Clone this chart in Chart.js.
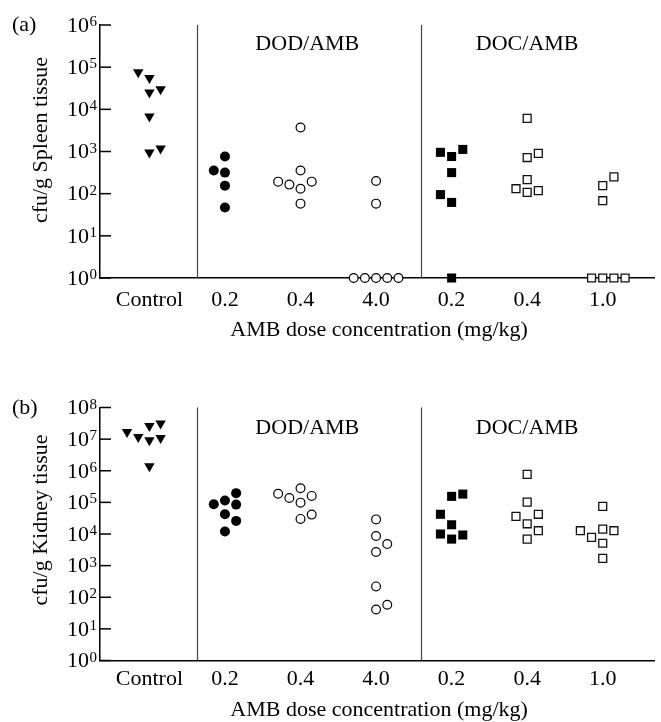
<!DOCTYPE html>
<html><head><meta charset="utf-8">
<script src="https://cdn.jsdelivr.net/npm/chart.js@4/dist/chart.umd.min.js"></script>
<style>
html,body{margin:0;padding:0;background:#fff;}
canvas{display:block;}
</style></head><body>
<canvas id="spleen" width="661" height="360"></canvas>
<canvas id="kidney" width="661" height="362"></canvas>
<script>
// ---------- data ----------
const categories = ['Control','0.2','0.4','4.0','0.2','0.4','1.0'];
const groupLabels = ['DOD/AMB','DOC/AMB'];
const xAxisTitle = 'AMB dose concentration (mg/kg)';
const spleenTitle = 'cfu/g Spleen tissue';
const kidneyTitle = 'cfu/g Kidney tissue';
const spleenTicks = [1,1e1,1e2,1e3,1e4,1e5,1e6];
const kidneyTicks = [1,1e1,1e2,1e3,1e4,1e5,1e6,1e7,1e8];

const spleenValues = [
  [76000,55000,25000,30000,6800,950,1170],
  [353,760,316,155,47],
  [3700,353,193,164,131,193,58],
  [200,58,1,1,1,1,1],
  [955,760,1120,316,95,62,1],
  [6100,720,900,215,131,107,118],
  [250,155,68,1,1,1,1]
];
const spleenSlots = [
  [-1,0,0,1,0,0,1],
  [-1,0,0,0,0],
  [0,0,-2,-1,0,1,0],
  [0,0,-2,-1,0,1,2],
  [-1,0,1,0,-1,0,0],
  [0,0,1,0,-1,0,1],
  [1,0,0,-1,0,1,2]
];
const kidneyValues = [
  [1.67e7,1.17e7,2.6e7,3.1e7,9.2e6,1.08e7,1.38e6],
  [8.7e4,1.15e5,1.96e5,4.2e4,8.5e4,2.6e4,1.2e4],
  [1.88e5,1.37e5,2.8e5,9.8e4,1.6e5,3.0e4,4.1e4],
  [2.9e4,8.6e3,4.8e3,2.7e3,220,41,58],
  [1.55e5,1.83e5,4.2e4,1.96e4,1.0e4,6.9e3,9.3e3],
  [7.7e5,1.02e5,3.6e4,4.2e4,2.1e4,1.27e4,6.9e3],
  [7.5e4,1.27e4,7.8e3,1.43e4,1.27e4,5.1e3,1.7e3]
];
const kidneySlots = [
  [-2,-1,0,1,0,1,0],
  [-1,0,1,0,1,1,0],
  [-2,-1,0,0,1,0,1],
  [0,0,1,0,0,0,1],
  [0,1,-1,0,-1,0,1],
  [0,0,-1,1,0,1,0],
  [0,-2,-1,0,1,0,0]
];

// ---------- styles / layout ----------
const FONT = 'Liberation Serif, Times New Roman, serif';
const SLOT = 0.148;
const X_MIN = -0.654, X_MAX = 6.68;
const SEPARATORS = [0.627, 3.595];
const GROUP_CENTERS = [2.09, 5.0];
const markerStyles = [
  {pointStyle:'triangle', rotation:180, radius:6, bg:'#000', bc:'#000', bw:0},
  {pointStyle:'circle', rotation:0, radius:5, bg:'#000', bc:'#000', bw:0},
  {pointStyle:'circle', rotation:0, radius:4.4, bg:'#fff', bc:'#000', bw:1.2},
  {pointStyle:'circle', rotation:0, radius:4.4, bg:'#fff', bc:'#000', bw:1.2},
  {pointStyle:'rect', rotation:0, radius:6.4, bg:'#000', bc:'#000', bw:0},
  {pointStyle:'rect', rotation:0, radius:5.6, bg:'#fff', bc:'#111', bw:1.3},
  {pointStyle:'rect', rotation:0, radius:5.6, bg:'#fff', bc:'#111', bw:1.3}
];

function makePanel(id, values, slots, ticks, yTitle, letter, g) {
  const datasets = values.map((vals, i) => {
    const m = markerStyles[i];
    return {
      label: categories[i],
      data: vals.map((v, j) => ({x: i + slots[i][j] * SLOT, y: v})),
      pointStyle: m.pointStyle,
      rotation: m.rotation,
      pointRadius: m.radius,
      pointBackgroundColor: m.bg,
      pointBorderColor: m.bc,
      pointBorderWidth: m.bw,
      showLine: false,
      clip: false
    };
  });

  const deco = {
    id: 'deco_' + id,
    beforeDatasetsDraw(chart) {
      const {ctx, chartArea, scales} = chart;
      ctx.save();
      ctx.strokeStyle = '#444';
      ctx.lineWidth = 1.2;
      SEPARATORS.forEach(s => {
        const px = Math.round(scales.x.getPixelForValue(s)) + 0.5;
        ctx.beginPath();
        ctx.moveTo(px, chartArea.top);
        ctx.lineTo(px, chartArea.bottom);
        ctx.stroke();
      });
      ctx.strokeStyle = '#000';
      ctx.lineWidth = 1.5;
      ticks.forEach(v => {
        const py = scales.y.getPixelForValue(v);
        ctx.beginPath();
        ctx.moveTo(chartArea.left, py);
        ctx.lineTo(chartArea.left + 11, py);
        ctx.stroke();
      });
      ctx.restore();
    },
    afterDraw(chart) {
      const {ctx, chartArea, scales} = chart;
      ctx.save();
      ctx.fillStyle = '#000';
      // y tick labels 10^n
      ticks.forEach(v => {
        const py = scales.y.getPixelForValue(v);
        const e = Math.round(Math.log10(v));
        ctx.font = '22px ' + FONT;
        ctx.textAlign = 'right';
        ctx.textBaseline = 'middle';
        ctx.fillText('10', 89, py + 1);
        ctx.font = '15px ' + FONT;
        ctx.textAlign = 'left';
        ctx.textBaseline = 'alphabetic';
        ctx.fillText(String(e), 89.5, py + 1);
      });
      // panel letter
      ctx.font = '22px ' + FONT;
      ctx.textAlign = 'left';
      ctx.textBaseline = 'middle';
      ctx.fillText(letter, 12, g.letterY);
      // group labels
      ctx.textAlign = 'center';
      groupLabels.forEach((t, i) => {
        ctx.fillText(t, scales.x.getPixelForValue(GROUP_CENTERS[i]), g.groupY);
      });
      // x title
      ctx.fillText(xAxisTitle, (chartArea.left + chartArea.right) / 2 + 2, g.xTitleY);
      // y title
      ctx.translate(41, g.yTitleY);
      ctx.rotate(-Math.PI / 2);
      ctx.fillText(yTitle, 0, 0);
      ctx.restore();
    }
  };

  return new Chart(document.getElementById(id), {
    type: 'scatter',
    data: {datasets},
    options: {
      responsive: false,
      devicePixelRatio: 1,
      animation: false,
      events: [],
      layout: {padding: {top: g.top, left: 0, right: 0, bottom: 0}},
      plugins: {legend: {display: false}, tooltip: {enabled: false}},
      scales: {
        x: {
          type: 'linear', min: X_MIN, max: X_MAX,
          afterBuildTicks: s => { s.ticks = categories.map((c, i) => ({value: i})); },
          afterFit: s => { s.height = g.xh; },
          grid: {display: false, drawTicks: false},
          border: {display: true, color: '#000', width: 1.5},
          ticks: {
            autoSkip: false, maxRotation: 0, minRotation: 0, padding: g.pad, color: '#000',
            font: {family: FONT, size: 22},
            callback: v => categories[Math.round(v)]
          }
        },
        y: {
          type: 'logarithmic', min: ticks[0], max: ticks[ticks.length - 1],
          afterBuildTicks: s => { s.ticks = ticks.map(v => ({value: v})); },
          afterFit: s => { s.width = 100; },
          grid: {display: false, drawTicks: false},
          border: {display: true, color: '#000', width: 1.5},
          ticks: {display: false}
        }
      }
    },
    plugins: [deco]
  });
}

makePanel('spleen', spleenValues, spleenSlots, spleenTicks, spleenTitle, '(a)',
  {top: 25, xh: 82, pad: 9, letterY: 25, groupY: 44, xTitleY: 330, yTitleY: 140});
makePanel('kidney', kidneyValues, kidneySlots, kidneyTicks, kidneyTitle, '(b)',
  {top: 47.5, xh: 61.5, pad: 6, letterY: 48, groupY: 68, xTitleY: 350, yTitleY: 160});
</script>
</body></html>
